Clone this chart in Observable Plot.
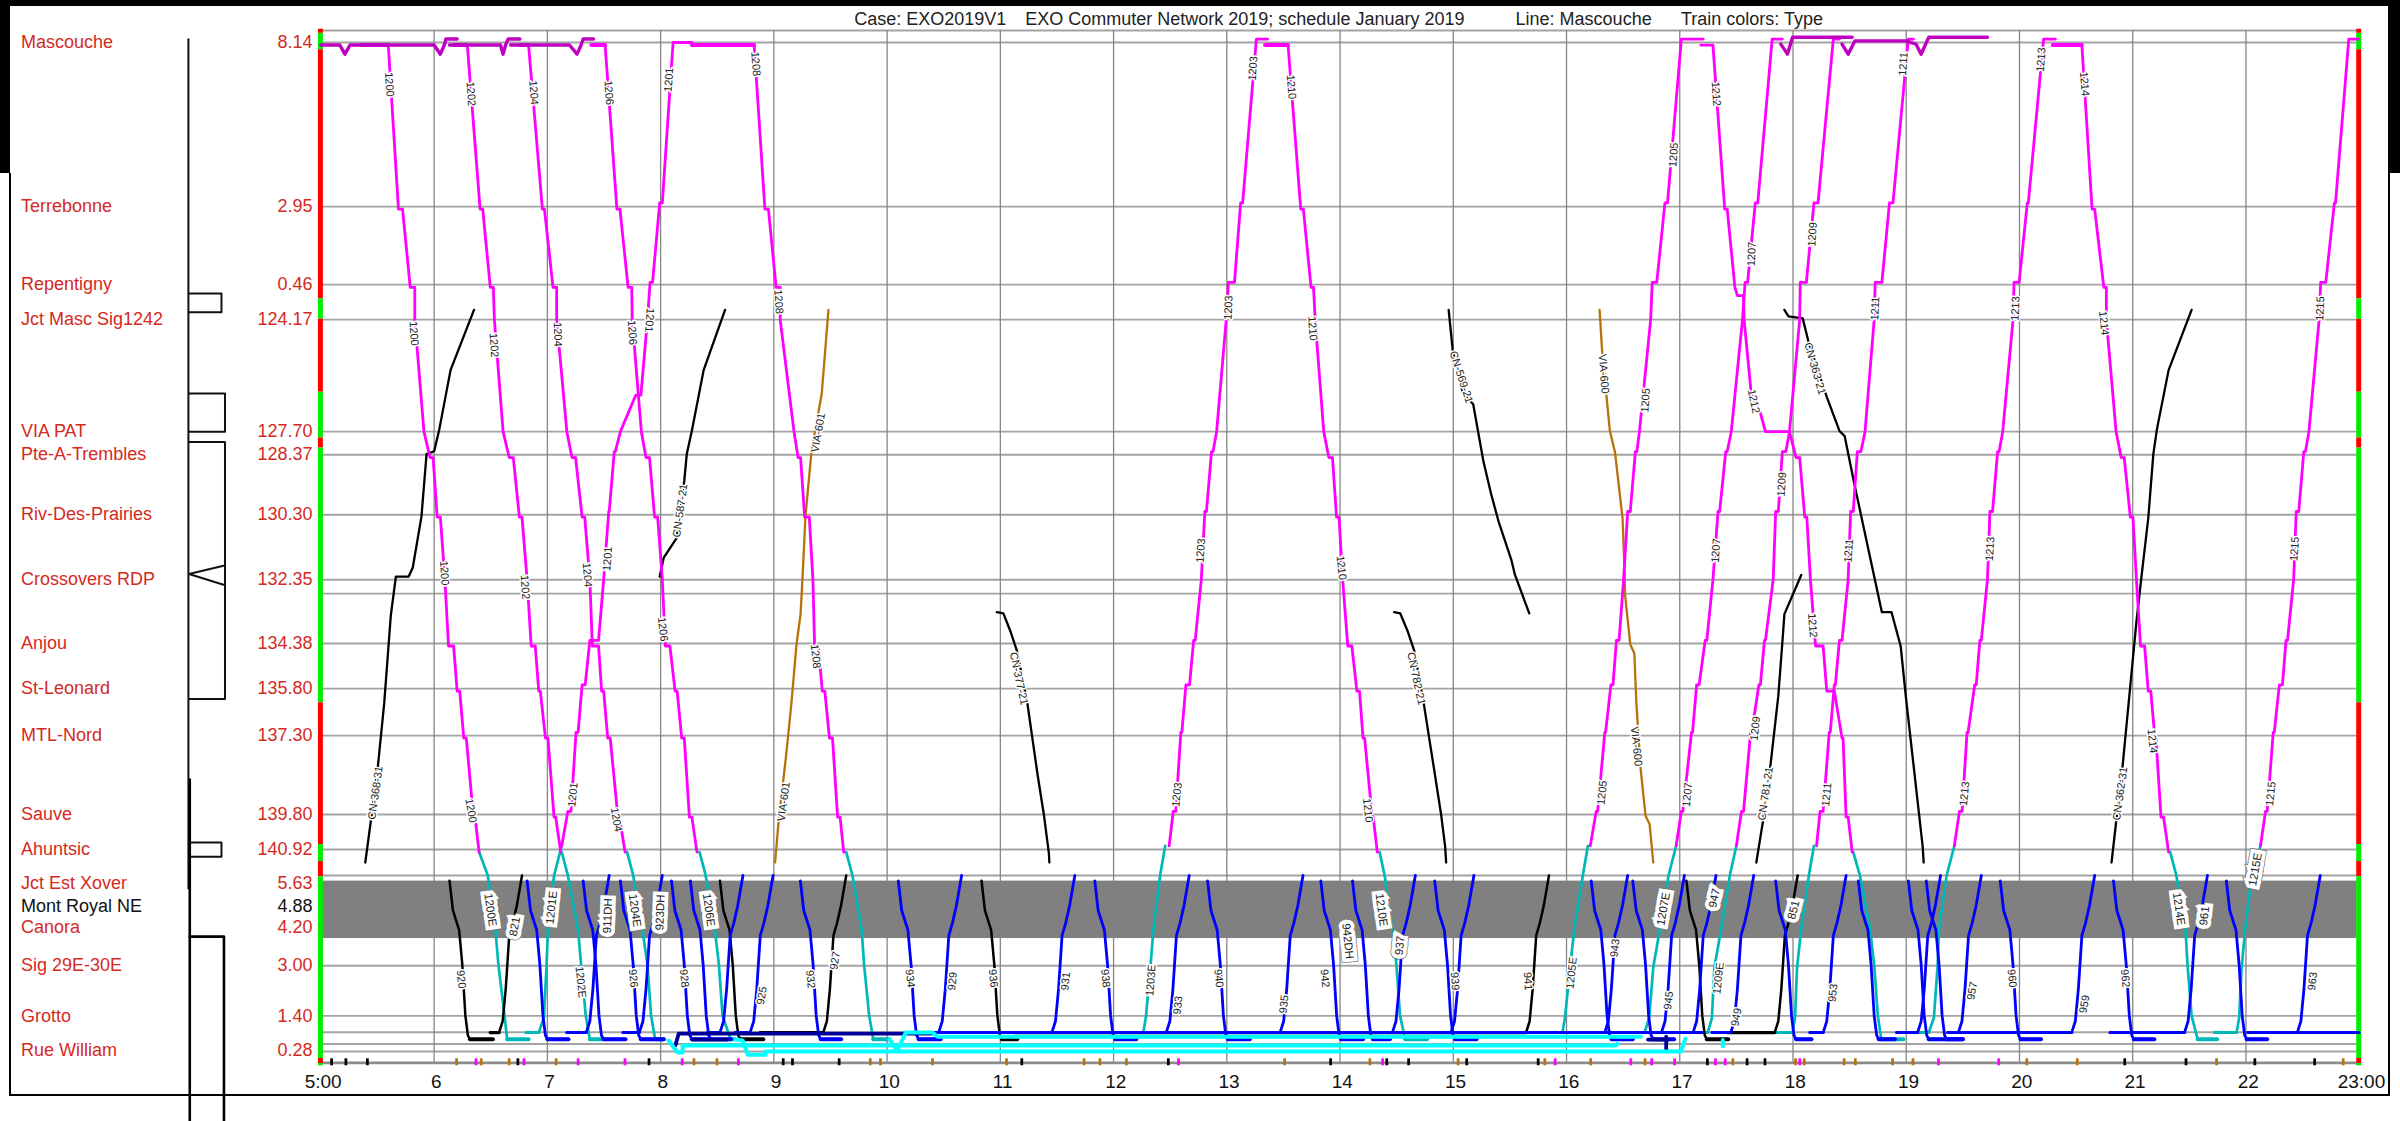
<!DOCTYPE html>
<html>
<head>
<meta charset="utf-8">
<script src="https://cdn.jsdelivr.net/npm/d3@7"></script>
<script src="https://cdn.jsdelivr.net/npm/@observablehq/plot@0.6"></script>
<style>
html,body{margin:0;padding:0;background:#fff;width:2400px;height:1121px;overflow:hidden}
#wrap{position:relative;width:2400px;height:1121px}
.f{position:absolute;background:#000}
svg{display:block}
</style>
</head>
<body>
<div id="wrap">
<div class="f" style="left:0;top:0;width:2400px;height:5.5px"></div>
<div class="f" style="left:0;top:0;width:10px;height:173px"></div>
<div class="f" style="left:2388px;top:0;width:12px;height:173px"></div>
<div class="f" style="left:9px;top:173px;width:2px;height:923px"></div>
<div class="f" style="left:2388px;top:173px;width:2px;height:923px"></div>
<div class="f" style="left:9px;top:1094px;width:2381px;height:2px"></div>
</div>
<script>
// stations
const stationNames=["Mascouche","Terrebonne","Repentigny","Jct Masc Sig1242","VIA PAT","Pte-A-Trembles","Riv-Des-Prairies","Crossovers RDP","Anjou","St-Leonard","MTL-Nord","Sauve","Ahuntsic","Jct Est Xover","Mont Royal NE","Canora","Sig 29E-30E","Grotto","Rue William"];
const stationMiles=["8.14","2.95","0.46","124.17","127.70","128.37","130.30","132.35","134.38","135.80","137.30","139.80","140.92","5.63","4.88","4.20","3.00","1.40","0.28"];
const stationDist=[0,5.2,7.67,8.78,12.33,13.06,14.96,17.02,19.04,20.47,21.96,24.46,25.57,26.63,27.38,28.04,29.25,30.84,31.94];
const gridDist=[-0.38,0,5.2,7.67,8.78,12.33,13.06,14.96,17.02,17.46,19.04,20.47,21.96,24.46,25.57,26.39,29.25,30.84,31.36,31.73,31.97];
const hourTicks=[5,6,7,8,9,10,11,12,13,14,15,16,17,18,19,20,21,22,23];
const hourLabels=["5:00","6","7","8","9","10","11","12","13","14","15","16","17","18","19","20","21","22","23:00"];
const titleParts=[["Case: EXO2019V1",9.71],["EXO Commuter Network 2019; schedule January 2019",11.22],["Line: Mascouche",15.55],["Train colors: Type",17.01]];
const barSegments=[[-0.42,-0.29,"#f00"],[-0.29,0.23,"#0e0"],[0.23,8.12,"#f00"],[8.12,8.77,"#0e0"],[8.77,11.08,"#f00"],[11.08,12.53,"#0e0"],[12.53,12.85,"#f00"],[12.85,20.92,"#0e0"],[20.92,25.41,"#f00"],[25.41,25.95,"#0e0"],[25.95,26.43,"#f00"],[26.43,32.19,"#0e0"],[32.19,32.35,"#f00"],[32.35,32.42,"#0e0"]];

// magenta trains, outbound
const routeDown=[0.08,0.08,5.28,5.28,7.76,7.76,8.78,12.33,13.15,13.15,15.04,15.04,17.02,19.12,19.12,20.55,20.55,22.04,22.04,24.54,24.54,25.65];
const magentaDown=[
[5.36,5.595,5.685,5.721,5.789,5.829,5.829,5.910,5.964,5.991,6.027,6.055,6.095,6.127,6.172,6.203,6.226,6.262,6.284,6.347,6.361,6.397],
[6.18,6.293,6.406,6.429,6.496,6.523,6.532,6.609,6.663,6.699,6.753,6.776,6.821,6.857,6.893,6.924,6.938,6.983,7.005,7.059,7.073,7.118],
[6.757,6.834,6.956,6.974,7.050,7.082,7.082,7.172,7.217,7.249,7.307,7.330,7.375,7.397,7.452,7.479,7.497,7.533,7.555,7.623,7.636,7.686],
[7.388,7.510,7.614,7.641,7.713,7.745,7.749,7.830,7.871,7.902,7.947,7.974,8.015,8.042,8.082,8.128,8.146,8.186,8.209,8.254,8.276,8.321],
[8.276,8.826,8.921,8.952,9.020,9.056,9.056,9.178,9.214,9.236,9.272,9.313,9.345,9.360,9.392,9.428,9.450,9.491,9.518,9.563,9.585,9.617],
[13.338,13.541,13.653,13.676,13.744,13.766,13.780,13.856,13.901,13.933,13.969,13.991,14.023,14.068,14.104,14.149,14.172,14.203,14.217,14.284,14.293,14.329],
[20.294,20.551,20.641,20.664,20.745,20.767,20.767,20.853,20.898,20.925,20.979,21.002,21.033,21.069,21.105,21.137,21.159,21.196,21.205,21.250,21.272,21.317]];
const route1212=[0.08,0.08,5.28,5.28,7.76,8.02,8.02,8.78,11.12,11.74,12.33,12.33,13.15,13.15,15.04,15.04,17.02,19.12,19.12,20.55,20.55,22.04,22.04,24.54,24.54,25.65];
const train1212=[17.185,17.293,17.397,17.419,17.487,17.509,17.563,17.568,17.631,17.712,17.757,17.969,18.027,18.059,18.104,18.122,18.154,18.199,18.266,18.298,18.365,18.433,18.442,18.469,18.487,18.523];

// magenta trains, inbound
const routeUp=[25.45,24.36,24.36,21.86,21.86,20.35,20.35,18.94,18.94,17.02,14.86,14.86,12.96,12.96,12.33,8.78,7.6,7.6,5.08,5.08,-0.11,-0.11];
const magentaUp=[
[12.491,12.527,12.549,12.594,12.603,12.639,12.671,12.707,12.721,12.775,12.806,12.820,12.865,12.878,12.910,12.995,13.014,13.068,13.122,13.140,13.261,13.361],
[16.21,16.262,16.275,16.338,16.345,16.392,16.410,16.441,16.464,16.504,16.540,16.563,16.608,16.621,16.644,16.743,16.757,16.797,16.869,16.892,17.014,17.207],
[16.968,17.014,17.027,17.104,17.113,17.149,17.171,17.225,17.239,17.293,17.338,17.352,17.406,17.419,17.455,17.554,17.577,17.599,17.667,17.689,17.816,17.906],
[17.500,17.545,17.563,17.626,17.635,17.699,17.712,17.748,17.757,17.825,17.847,17.870,17.906,17.937,17.969,18.059,18.064,18.118,18.185,18.221,18.356,18.41],
[18.208,18.239,18.266,18.320,18.329,18.365,18.374,18.410,18.433,18.487,18.509,18.532,18.568,18.600,18.636,18.717,18.726,18.785,18.852,18.883,19.018,19.064],
[19.425,19.470,19.493,19.537,19.546,19.605,19.618,19.650,19.663,19.717,19.739,19.762,19.807,19.820,19.852,19.943,19.952,19.997,20.069,20.078,20.213,20.317],
[22.128,22.173,22.187,22.241,22.250,22.295,22.322,22.354,22.367,22.421,22.444,22.466,22.511,22.525,22.556,22.646,22.660,22.705,22.781,22.791,22.908,22.993]];
const route1201=[25.45,24.36,24.36,21.86,21.86,20.35,20.35,18.94,18.94,17.02,14.86,14.86,12.96,12.96,12.33,11.17,11.17,8.78,7.6,7.6,5.08,5.08,0,0];
const train1201=[7.127,7.181,7.208,7.253,7.271,7.307,7.334,7.375,7.452,7.497,7.542,7.546,7.591,7.600,7.645,7.781,7.826,7.884,7.907,7.929,7.992,8.015,8.110,8.276];

// teal empties
const routeTealDown=[25.65,26.39,28.1,29.23,30.84,31.58,31.58];
const tealDown=[
[6.397,6.474,6.541,6.568,6.622,6.645,6.834],
[7.127,7.181,7.271,7.298,7.339,7.375,7.479],
[7.704,7.758,7.839,7.884,7.916,7.952,8.028],
[8.344,8.398,8.479,8.515,8.547,8.618,8.663],
[9.639,9.694,9.775,9.797,9.842,9.878,10.023],
[14.349,14.394,14.462,14.498,14.53,14.575,14.768],
[18.532,18.591,18.681,18.717,18.749,18.78,18.974],
[21.331,21.385,21.466,21.484,21.52,21.574,21.745]];
const routeTealUp=[31.37,31.37,30.9,29.3,28.1,26.39,25.45];
const tealUp=[
[6.812,6.924,6.969,6.992,7.005,7.059,7.127],
[12.172,12.262,12.285,12.325,12.352,12.411,12.456],
[14.732,15.964,15.986,16.032,16.068,16.144,16.189],
[16.428,16.689,16.73,16.766,16.824,16.901,16.968],
[17.059,17.248,17.284,17.306,17.365,17.442,17.5],
[17.419,17.996,18.018,18.036,18.072,18.14,18.185],
[18.951,19.199,19.244,19.276,19.289,19.357,19.425],
[21.723,21.917,21.94,21.962,21.993,22.052,22.128]];

// blue and black lower section
const routeLowDown=[26.56,27.5,28.12,29.23,30.84,31.46,31.58,31.58];
const blueDown=[
[6.821,6.851,6.906,6.934,6.961,6.983,7.001,7.186],
[7.316,7.346,7.401,7.429,7.456,7.478,7.496,7.69],
[7.645,7.675,7.73,7.758,7.785,7.807,7.825,8.028],
[8.096,8.126,8.181,8.209,8.236,8.258,8.276,8.434],
[8.263,8.293,8.348,8.376,8.403,8.425,8.443,8.62],
[9.234,9.264,9.319,9.347,9.374,9.396,9.414,9.594],
[10.099,10.129,10.184,10.212,10.239,10.261,10.279,10.473],
[11.834,11.864,11.919,11.947,11.974,11.996,12.014,12.2],
[12.83,12.86,12.915,12.943,12.97,12.992,13.01,13.203],
[13.83,13.86,13.915,13.943,13.97,13.992,14.01,14.203],
[14.11,14.14,14.195,14.223,14.25,14.272,14.29,14.44],
[14.836,14.866,14.921,14.949,14.976,14.998,15.016,15.205],
[16.218,16.248,16.303,16.331,16.358,16.38,16.398,16.585],
[16.585,16.615,16.67,16.698,16.725,16.747,16.765,16.95],
[17.847,17.877,17.932,17.96,17.987,18.009,18.027,18.163],
[18.577,18.607,18.662,18.69,18.717,18.739,18.757,18.9],
[19.019,19.049,19.104,19.132,19.159,19.181,19.199,19.5],
[19.177,19.207,19.262,19.29,19.317,19.339,19.357,19.5],
[19.83,19.86,19.915,19.943,19.97,19.992,20.01,20.19],
[20.83,20.86,20.915,20.943,20.97,20.992,21.01,21.191],
[21.827,21.857,21.912,21.94,21.967,21.989,22.007,22.187]];
const blackDown=[
[6.136,6.166,6.221,6.249,6.276,6.298,6.316,6.519],
[8.524,8.554,8.609,8.637,8.664,8.686,8.704,8.907],
[10.834,10.864,10.919,10.947,10.974,10.996,11.014,11.149],
[17.059,17.089,17.144,17.172,17.199,17.221,17.239,17.428]];
const routeLowUp=[31.37,31.37,31.01,29.99,28.3,27.9,27.33,26.39];
const blueUp=[
[7.172,7.343,7.375,7.402,7.433,7.465,7.501,7.546],
[7.668,7.812,7.844,7.871,7.902,7.934,7.97,8.015],
[8.412,8.524,8.556,8.583,8.614,8.646,8.682,8.727],
[8.659,8.79,8.822,8.849,8.88,8.912,8.948,8.993],
[10.406,10.455,10.487,10.514,10.545,10.577,10.613,10.658],
[11.127,11.455,11.487,11.514,11.545,11.577,11.613,11.658],
[12.172,12.465,12.497,12.524,12.555,12.587,12.623,12.668],
[13.18,13.47,13.502,13.529,13.56,13.592,13.628,13.673],
[14.182,14.462,14.494,14.521,14.552,14.584,14.62,14.665],
[14.752,14.979,15.011,15.038,15.069,15.101,15.137,15.182],
[15.9,16.337,16.369,16.396,16.427,16.459,16.495,16.54],
[16.563,16.838,16.87,16.897,16.928,16.96,16.996,17.041],
[16.878,17.117,17.149,17.176,17.207,17.239,17.275,17.32],
[17.284,17.45,17.482,17.509,17.54,17.572,17.608,17.653],
[18.149,18.266,18.298,18.325,18.356,18.388,18.424,18.469],
[18.915,19.1,19.132,19.159,19.19,19.222,19.258,19.303],
[19.366,19.46,19.492,19.519,19.55,19.582,19.618,19.663],
[19.379,20.461,20.493,20.52,20.551,20.583,20.619,20.664],
[20.8,21.457,21.489,21.516,21.547,21.579,21.615,21.66],
[22.016,22.453,22.485,22.512,22.543,22.575,22.611,22.656]];
const blackUp=[
[6.496,6.573,6.605,6.632,6.663,6.695,6.731,6.776],
[8.88,9.436,9.468,9.495,9.526,9.558,9.594,9.639],
[11.127,15.642,15.674,15.701,15.732,15.764,15.8,15.845],
[17.419,17.838,17.87,17.897,17.928,17.96,17.996,18.041]];

// freight and VIA paths as [time, distance] readings
const cnPaths=[
[[5.392,25.98],[5.437,24.77],[5.505,22.87],[5.559,20.94],[5.617,18.17],[5.662,16.92],[5.775,16.92],[5.811,16.64],[5.888,15.02],[5.933,13.04],[6,12.95],[6.046,12.25],[6.145,10.38],[6.352,8.47]],
[[7.992,16.92],[8.028,16.32],[8.141,15.7],[8.209,13.89],[8.231,13.04],[8.276,12.3],[8.38,10.38],[8.569,8.47]],
[[10.969,18.05],[11.027,18.09],[11.091,18.67],[11.149,19.3],[11.239,20.94],[11.329,23.2],[11.384,24.45],[11.429,25.7],[11.433,25.98]],
[[14.478,18.05],[14.532,18.09],[14.599,18.67],[14.658,19.3],[14.744,21.05],[14.838,23.2],[14.892,24.45],[14.928,25.47],[14.937,25.98]],
[[14.959,8.47],[14.995,9.76],[15.086,11.12],[15.176,11.46],[15.266,13.27],[15.333,14.29],[15.401,15.19],[15.514,16.41],[15.545,16.87],[15.671,18.09]],
[[17.676,25.98],[17.735,24.67],[17.802,22.87],[17.87,20.71],[17.906,19.01],[17.924,18.11],[18.073,16.87]],
[[20.813,25.98],[20.853,24.71],[20.912,22.87],[20.979,20.37],[21.033,18.34],[21.083,16.75],[21.137,15.08],[21.182,13.04],[21.214,12.25],[21.317,10.38],[21.52,8.47]],
[[17.924,8.47],[17.96,8.68],[18.086,8.74],[18.14,9.53],[18.298,11.23],[18.411,12.31],[18.456,12.47],[18.546,14.06],[18.681,16.32],[18.785,18.05],[18.87,18.05],[18.951,19.13],[18.996,20.71],[19.145,25.47],[19.154,25.98]]];
const viaPaths=[
[[9.011,25.98],[9.042,24.67],[9.11,22.53],[9.155,20.94],[9.2,19.07],[9.236,18.11],[9.256,16.75],[9.279,15.02],[9.333,12.93],[9.423,11.12],[9.482,8.47]],
[[16.292,8.47],[16.315,9.81],[16.383,12.31],[16.428,12.98],[16.495,15.08],[16.509,16.41],[16.518,17.54],[16.563,19.07],[16.599,19.36],[16.617,20.94],[16.653,22.97],[16.698,24.5],[16.734,24.77],[16.766,25.98]]];
// Mascouche yard moves
const yardPaths=[
[[5,.08],[5.167,.08],[5.212,.37],[5.257,.08],[6,.08],[6.055,.37],[6.09,.08],[6.104,-.11],[6.203,-.11]],
[[6.136,.08],[6.586,.08],[6.609,.37],[6.631,.08],[6.654,-.11],[6.757,-.11]],
[[6.676,.08],[7.195,.08],[7.262,.37],[7.298,.08],[7.316,-.11],[7.407,-.11]],
[[17.892,.05],[17.951,.37],[17.996,-.165],[18.523,-.165]],
[[18.433,.05],[18.487,.37],[18.546,-.05],[18.996,-.05],[19.086,.05],[19.131,.37],[19.199,-.165],[19.717,-.165]]];
// Terminal layover tracks
const cyanPaths=[
[[8.071,31.62],[8.15,32],[8.194,32],[8.194,31.78],[16.436,31.78],[16.45,31.72]],
[[8.663,31.59],[8.725,31.62],[8.769,32.07],[8.928,32.07],[8.928,31.97],[17.01,31.97],[17.05,31.56]],
[[10.023,31.59],[10.09,31.94],[10.164,31.37],[10.402,31.37],[10.446,31.5],[16.657,31.5]],
[[17.38,31.6],[17.38,31.8]]];
const navyPaths=[
[[8.13,31.78],[8.16,31.4],[8.247,31.4],[10.4,31.4]],
[[8.28,31.59],[8.59,31.59]],
[[16.72,31.59],[16.9,31.59]],
[[16.88,31.5],[16.88,31.96]]];
const blueLayover=[[[10.4,31.37],[17.2,31.37]],[[22.4,31.37],[23,31.37]]];

// bottom ticks
const tickBlack=[5.099,5.225,5.415,6.744,7.902,9.087,9.169,9.581,11.194,12.488,13.921,14.417,14.61,15.123,15.754,17.248,17.599,17.757,20.934,21.475,22.083,22.611];
const tickOrange=[6.203,6.42,6.667,7.082,8.299,8.502,9.856,9.946,10.406,11.059,11.744,11.884,12.118,13.515,14.268,15.047,15.813,16.218,16.698,17.473,18.027,18.104,18.456,18.555,18.884,19.064,20.069,20.515,21.745,22.863];
const tickMagenta=[6.374,6.798,7.276,7.69,8.195,8.691,12.578,14.38,15.904,16.572,16.757,16.959,17.32,17.406,18.064,19.289,19.821];

// track schematic at left
const schematicThin=[
[[3.83,-0.1],[3.83,26.8]],
[[3.83,7.95],[4.122,7.95],[4.122,8.55],[3.83,8.55]],
[[3.835,11.12],[4.153,11.12],[4.153,12.33],[3.835,12.33]],
[[3.835,12.66],[4.153,12.66],[4.153,20.8],[3.835,20.8]],
[[4.14,16.58],[3.835,16.84],[4.14,17.18]],
[[3.842,25.35],[4.122,25.35],[4.122,25.8],[3.842,25.8]]];
const schematicThick=[
[[3.842,23.35],[3.842,34.2]],
[[3.842,28.33],[4.144,28.33],[4.144,34.2]]];

// labels [text, time, distance, rotation]
const plainLabels=[
["1200",5.604,1.33,86],["1202",6.325,1.63,86],["1204",6.879,1.59,86],["1206",7.542,1.59,86],["1201",8.073,1.18,-86],["1208",8.84,.68,86],
["1200",5.82,9.22,86],["1202",6.528,9.59,86],["1204",7.091,9.25,88],["1206",7.749,9.19,86],["1201",7.902,8.8,94],["1208",9.042,8.21,86],
["CN-587-21",8.173,14.83,-82],["1201",7.532,16.36,-86],["1200",6.09,16.81,86],["1202",6.803,17.26,86],["1204",7.352,16.87,86],["1206",8.019,18.59,84],
["1200",6.325,24.34,80],["1201",7.226,23.83,-84],["1204",7.609,24.62,80],["CN-368-31",5.482,23.77,-82],["VIA-601",9.087,24.05,-82],
["920",6.239,29.68,84],["1202E",7.294,29.77,84],["926",7.758,29.65,84],["928",8.209,29.65,84],["925",8.894,30.2,-80],
["VIA-601",9.392,12.36,-80],["CN-569-21",15.07,10.6,72],["1203",13.231,.82,-86],["1210",13.569,1.41,86],["1203",13.014,8.4,-88],["1210",13.757,9.06,86],
["1203",12.77,16.1,-86],["1210",14.011,16.64,84],["1208",9.369,19.45,84],["CN-377-21",11.163,20.15,78],["CN-782-21",14.673,20.15,78],["1203",12.56,23.83,-84],["1210",14.245,24.33,84],
["932",9.324,29.68,84],["927",9.54,29.09,-80],["934",10.203,29.65,84],["929",10.577,29.74,-84],["936",10.937,29.65,84],["931",11.577,29.74,-84],["938",11.929,29.65,84],
["1203E",12.33,29.71,-86],["933",12.569,30.5,-84],["940",12.929,29.65,84],["935",13.505,30.47,-84],["942",13.866,29.65,84],["939",15.014,29.74,86],["941",15.659,29.74,86],["1205E",16.045,29.48,-84],
["1205",16.315,23.77,-84],["1205",16.946,3.56,-86],["1212",17.32,1.63,86],["1207",17.635,6.7,-88],["1209",18.172,6.08,-86],["1211",18.974,.68,-86],["1213",20.191,.54,-86],["1214",20.574,1.31,86],
["1205",16.698,11.34,-86],["1212",17.653,11.37,78],["1211",18.726,8.43,-88],["1213",19.965,8.43,-88],["1214",20.745,8.89,84],["1215",22.656,8.43,-88],["VIA-600",16.329,10.5,86],["CN-363-21",18.194,10.33,74],
["1209",17.901,14,-86],["1207",17.32,16.1,-86],["1211",18.492,16.1,-86],["1213",19.74,16.04,-86],["1215",22.43,16.04,-86],["1212",18.172,18.47,86],["1214",21.173,22.13,84],["VIA-600",16.617,22.3,84],
["1209",17.667,21.73,-84],["CN-781-21",17.757,23.8,-82],["1211",18.298,23.83,-84],["1207",17.068,23.83,-84],["1213",19.515,23.8,-84],["1215",22.219,23.8,-84],["CN-362-31",20.889,23.8,-82],
["943",16.428,28.69,-84],["945",16.901,30.35,-84],["1209E",17.342,29.65,-84],["949",17.5,30.88,-80],["953",18.352,30.11,-84],["957",19.582,30.05,-80],["960",19.934,29.65,84],["959",20.574,30.47,-80],["962",20.934,29.65,84],["963",22.588,29.74,-84]];
const boxedLabels=[
["1200E",6.496,27.48,82],["821",6.712,28.01,-80],["1201E",7.037,27.41,-84],["911DH",7.533,27.67,-88],["1204E",7.772,27.5,82],["923DH",7.997,27.56,-88],["1206E",8.425,27.48,82],
["942DH",14.068,28.47,84],["1210E",14.365,27.48,82],["937",14.528,28.61,-84],["1207E",16.856,27.45,-80],["947",17.306,27.11,-78],["851",18.005,27.48,-76],["1214E",21.407,27.45,82],["961",21.633,27.67,-84],["1215E",22.083,26.2,-80]];

const ff="Liberation Sans, Arial, sans-serif";
const rowsFrom=(times,route)=>times.map((t,i)=>({t,d:route[i]}));
const pathRows=p=>p.map(([t,d])=>({t,d}));
const trace=(rows,stroke,strokeWidth)=>Plot.line(rows,{x:"t",y:"d",stroke,strokeWidth,strokeLinejoin:"round",curve:"linear"});
const many=(arr,route,stroke,w)=>arr.map(ts=>trace(rowsFrom(ts,route),stroke,w));
const paths=(arr,stroke,w)=>arr.map(p=>trace(pathRows(p),stroke,w));
// the arrival and departure layovers at the bottom are drawn heavier than the running lines
const heavyEnd=(arr,route,stroke,w)=>arr.map(ts=>trace(rowsFrom(ts,route).slice(-2),stroke,w));
const heavyStart=(arr,route,stroke,w)=>arr.map(ts=>trace(rowsFrom(ts,route).slice(0,2),stroke,w));
const ticks=(arr,fill)=>Plot.rect(arr,{x1:d=>d-0.012,x2:d=>d+0.012,y1:32.2,y2:32.42,fill});
const lab=(arr,extra)=>Plot.text(arr,{x:d=>d[1],y:d=>d[2],text:d=>d[0],rotate:d=>d[3],fontSize:11,fill:"#222",paintOrder:"stroke",...extra});

const magenta="#ff00ff",blue="#0000ff",teal="#00b8b8",cyan="#00ffff",brown="#b8720c",navy="#000099",dark="#c000c0";

const chart=Plot.plot({
  width:2400,height:1121,margin:0,
  x:{domain:[5,23],range:[320.4,2358.7],axis:null},
  y:{domain:[0,32],range:[42,1052],axis:null},
  style:{background:"transparent",fontFamily:ff,overflow:"visible"},
  marks:[
    Plot.ruleY(gridDist,{y:d=>d,x1:5,x2:22.98,stroke:"#a3a3a3",strokeWidth:1.9}),
    Plot.ruleY([32.33],{x1:5,x2:22.98,stroke:"#8c8c8c",strokeWidth:2.6}),
    Plot.ruleX(hourTicks.slice(1,-1),{x:d=>d,y1:-0.38,y2:32.33,stroke:"#868686",strokeWidth:1.3}),
    Plot.rect([[26.57,28.39]],{x1:5,x2:22.98,y1:d=>d[0],y2:d=>d[1],fill:"#808080"}),
    Plot.rect(barSegments,{x1:4.978,x2:5.022,y1:d=>d[0],y2:d=>d[1],fill:d=>d[2]}),
    Plot.rect(barSegments,{x1:22.978,x2:23.022,y1:d=>d[0],y2:d=>d[1],fill:d=>d[2]}),
    ticks(tickBlack,"#000"),ticks(tickOrange,brown),ticks(tickMagenta,magenta),
    ...paths(schematicThin,"#111",2),
    ...paths(schematicThick,"#000",2.6),
    ...paths(cnPaths,"#000",2.3),
    ...paths(viaPaths,brown,2.3),
    ...many(tealDown,routeTealDown,teal,2.7),
    ...heavyEnd(tealDown,routeTealDown,teal,4),
    ...many(tealUp,routeTealUp,teal,2.7),
    ...heavyStart(tealUp,routeTealUp,teal,3),
    ...many(blackDown,routeLowDown,"#000",2.5),
    ...heavyEnd(blackDown,routeLowDown,"#000",4),
    ...many(blackUp,routeLowUp,"#000",2.5),
    ...heavyStart(blackUp,routeLowUp,"#000",3.4),
    ...paths(blueLayover,blue,3),
    ...many(blueDown,routeLowDown,blue,2.8),
    ...heavyEnd(blueDown,routeLowDown,blue,4),
    ...many(blueUp,routeLowUp,blue,2.8),
    ...heavyStart(blueUp,routeLowUp,blue,3),
    ...paths(navyPaths,navy,3.8),
    ...paths(cyanPaths,cyan,4),
    ...many(magentaDown,routeDown,magenta,2.8),
    ...heavyStart(magentaDown,routeDown,magenta,4),
    trace(rowsFrom(train1212,route1212),magenta,2.8),
    ...many(magentaUp,routeUp,magenta,2.8),
    trace(rowsFrom(train1201,route1201),magenta,2.8),
    ...paths(yardPaths,dark,3.4),
    lab(plainLabels,{stroke:"#fff",strokeWidth:3}),
    lab(boxedLabels,{stroke:"#777",strokeWidth:9,strokeLinejoin:"miter",fill:"#777",fontSize:11.5}),
    lab(boxedLabels,{stroke:"#fff",strokeWidth:7.5,strokeLinejoin:"miter",fontSize:11.5}),
    Plot.text(stationNames,{x:2.351,y:(d,i)=>stationDist[i],text:d=>d,textAnchor:"start",fontSize:18,fill:d=>d==="Mont Royal NE"?"#111":"#d42a1e"}),
    Plot.text(stationMiles,{x:4.926,y:(d,i)=>stationDist[i],text:d=>d,textAnchor:"end",fontSize:18,fill:(d,i)=>i===14?"#111":"#d42a1e"}),
    Plot.text(hourTicks,{x:d=>d+0.02,y:32.92,text:(d,i)=>hourLabels[i],fontSize:19,fill:"#111"}),
    Plot.text(titleParts,{x:d=>d[1],y:-0.74,text:d=>d[0],textAnchor:"start",fontSize:18,fill:"#222"})
  ]
});
document.getElementById("wrap").prepend(chart);
</script>
</body>
</html>
